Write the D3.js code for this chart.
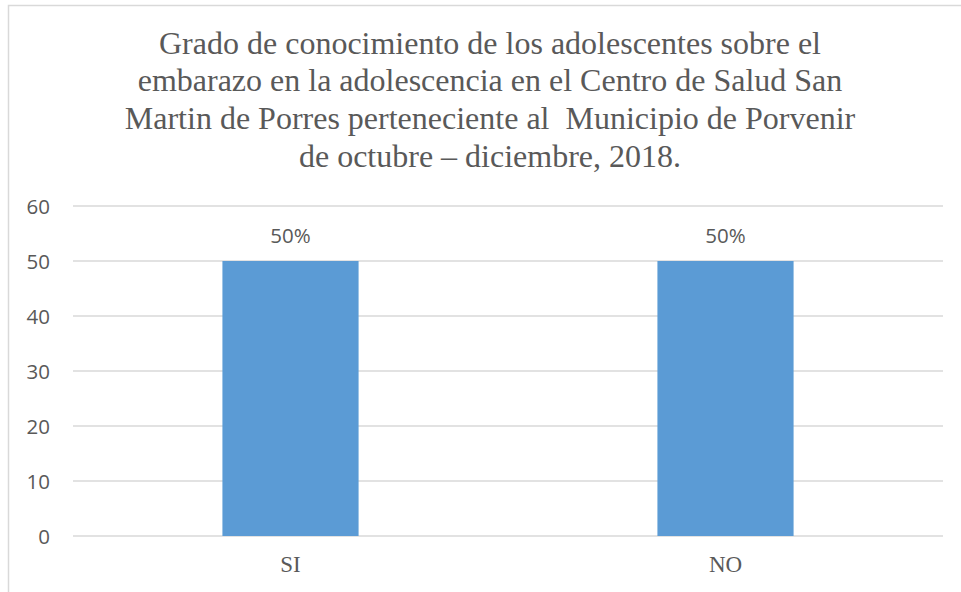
<!DOCTYPE html>
<html>
<head>
<meta charset="utf-8">
<script src="https://cdn.jsdelivr.net/npm/d3@7"></script>
<style>
  body { margin: 0; background: #fff; }
  svg { display: block; }
</style>
</head>
<body>
<script>
// Chart data
var categories = ["SI", "NO"];
var values = [50, 50];
var valueLabels = ["50%", "50%"];
var yTicks = [0, 10, 20, 30, 40, 50, 60];
var titleLines = [
    "Grado de conocimiento de los adolescentes sobre el",
    "embarazo en la adolescencia en el Centro de Salud San",
    "Martin de Porres perteneciente al\u00a0 Municipio de Porvenir",
    "de octubre \u2013 diciembre, 2018."
];

var w = 961, h = 592;
var textColor = "#595959";
var sansFont = "Open Sans, Liberation Sans, sans-serif";
var serifFont = "Liberation Serif, serif";

var svg = d3.select("body").append("svg")
    .attr("width", w)
    .attr("height", h);

// outer chart border (runs past the right/bottom edge)
svg.append("rect")
    .attr("x", 8.5)
    .attr("y", 5.5)
    .attr("width", 1000)
    .attr("height", 1000)
    .style("fill", "#fff")
    .style("stroke", "#D9D9D9")
    .style("stroke-width", 1.5);

// title, one tspan per line
svg.append("text")
    .attr("text-anchor", "middle")
    .selectAll("tspan")
    .data(titleLines)
    .enter()
    .append("tspan")
    .attr("x", 490)
    .attr("y", function(d, i){ return 53.5 + i * 37.7; })
    .attr("font-family", serifFont)
    .attr("font-size", 32)
    .attr("fill", textColor)
    .text(function(d){ return d; });

// scales
var x = d3.scaleBand()
    .domain(categories)
    .range([73, 943])
    .paddingInner(0.687)
    .paddingOuter(0.3435);

var y = d3.scaleLinear()
    .domain([0, 60])
    .range([536, 206]);

// gridlines
svg.selectAll(".grid")
    .data(yTicks)
    .enter()
    .append("line")
    .attr("class", "grid")
    .attr("x1", 73)
    .attr("x2", 943)
    .attr("y1", function(d){ return y(d); })
    .attr("y2", function(d){ return y(d); })
    .style("stroke", "#D9D9D9")
    .style("stroke-width", 1.5);

// y axis labels
var yAxis = d3.axisLeft(y).tickValues(yTicks).tickSize(0).tickPadding(0);
var gy = svg.append("g")
    .attr("transform", "translate(50,0)")
    .call(yAxis);
gy.select(".domain").remove();
gy.selectAll("text")
    .attr("dy", "0.36em")
    .style("font-family", sansFont)
    .style("font-size", "20.5px")
    .style("fill", textColor);

// bars
svg.selectAll(".bar")
    .data(values)
    .enter()
    .append("rect")
    .attr("class", "bar")
    .attr("x", function(d, i){ return x(categories[i]); })
    .attr("width", x.bandwidth())
    .attr("y", function(d){ return y(d); })
    .attr("height", function(d){ return y(0) - y(d); })
    .style("fill", "#5B9BD5");

// value labels
svg.selectAll(".vlabel")
    .data(values)
    .enter()
    .append("text")
    .attr("class", "vlabel")
    .attr("text-anchor", "middle")
    .attr("x", function(d, i){ return x(categories[i]) + x.bandwidth() / 2; })
    .attr("y", function(d){ return y(d) - 18.5; })
    .style("font-family", sansFont)
    .style("font-size", "20.5px")
    .style("fill", textColor)
    .text(function(d, i){ return valueLabels[i]; });

// x axis category labels
var xAxis = d3.axisBottom(x).tickSize(0).tickPadding(0);
var gx = svg.append("g")
    .attr("transform", "translate(0,536)")
    .call(xAxis);
gx.select(".domain").remove();
gx.selectAll("text")
    .attr("dy", null)
    .attr("y", 36)
    .style("font-family", serifFont)
    .style("font-size", "23px")
    .style("fill", textColor);
</script>
</body>
</html>
